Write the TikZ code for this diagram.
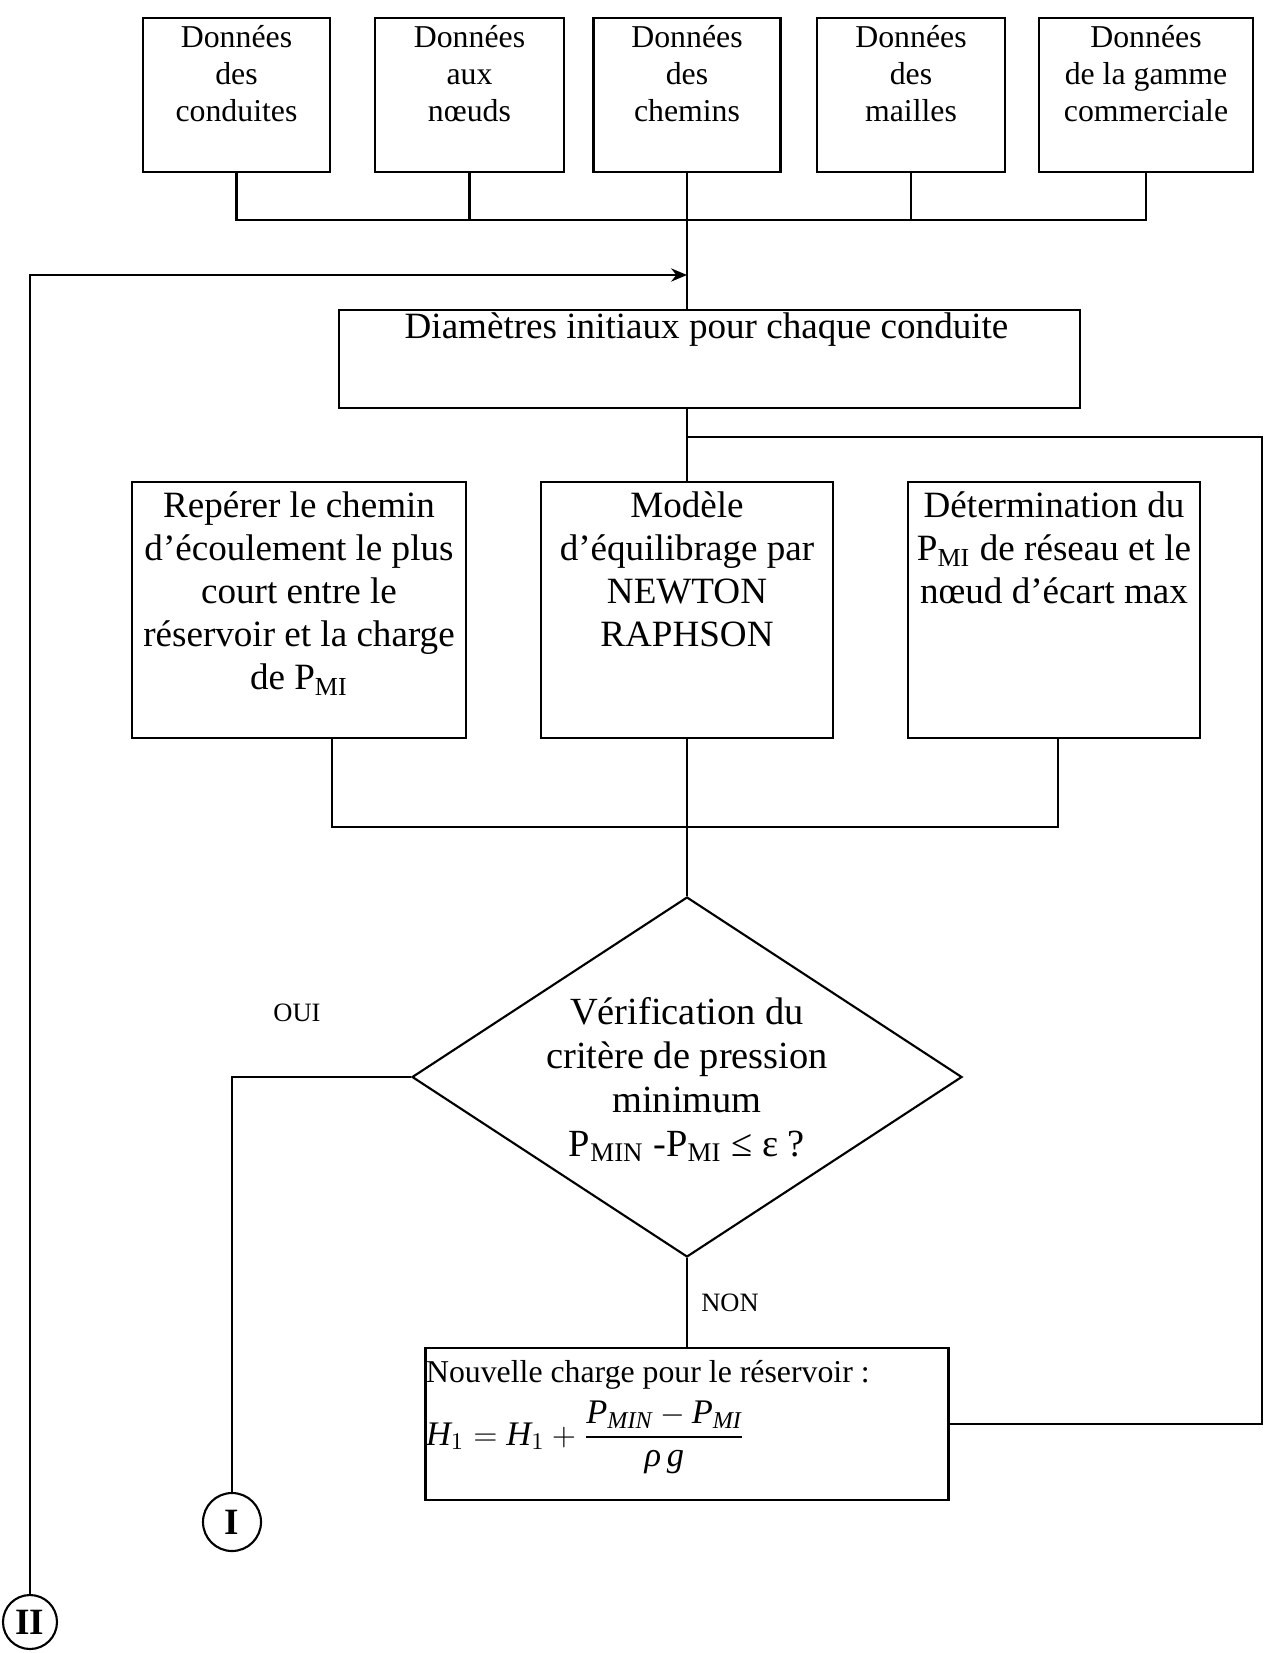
\documentclass[tikz,border=0pt]{standalone}
\usepackage{fontspec}
\setmainfont{Liberation Serif}
\usepackage{amsmath}
\usetikzlibrary{shapes.geometric,arrows.meta,calc}
\newcommand\pxu[1]{#1*0.37736pt}
\begin{document}
\begin{tikzpicture}[x=0.37736pt, y=-0.37736pt, line width=0.8pt,
  box/.style={draw, inner sep=0pt},
  ttxt/.style={align=center, inner sep=0pt, font=\fontsize{12}{14}\selectfont, anchor=north},
  mtxt/.style={align=center, inner sep=0pt, font=\fontsize{14}{16.2}\selectfont, anchor=north},
  dtxt/.style={align=center, inner sep=0pt, font=\fontsize{14.5}{16.6}\selectfont, anchor=north},
  lbl/.style={inner sep=0pt, font=\fontsize{10}{12}\selectfont},
  circ/.style={draw, circle, inner sep=0pt, font=\fontsize{14}{16}\selectfont\bfseries}]
\fill[white] (0,0) rectangle (1272,1653);
\useasboundingbox (0,0) rectangle (1272,1653);

% top data boxes
\node[box, minimum width=\pxu{187}, minimum height=\pxu{154}] (b1) at (236.5,95) {};
\node[box, minimum width=\pxu{189}, minimum height=\pxu{154}] (b2) at (469.5,95) {};
\node[box, minimum width=\pxu{187}, minimum height=\pxu{154}] (b3) at (687,95) {};
\node[box, minimum width=\pxu{188}, minimum height=\pxu{154}] (b4) at (911,95) {};
\node[box, minimum width=\pxu{214}, minimum height=\pxu{154}] (b5) at (1146,95) {};
\node[ttxt] (t1) at ($(b1.north)+(0,7)$) {Données\\des\\conduites};
\node[ttxt] (t2) at ($(b2.north)+(0,7)$) {Données\\aux\\nœuds};
\node[ttxt] (t3) at ($(b3.north)+(0,7)$) {Données\\des\\chemins};
\node[ttxt] (t4) at ($(b4.north)+(0,7)$) {Données\\des\\mailles};
\node[ttxt] (t5) at ($(b5.north)+(0,7)$) {Données\\de la gamme\\commerciale};

% initial diameters
\node[box, minimum width=\pxu{741}, minimum height=\pxu{98}] (d0) at (709.5,359) {};
\node[mtxt] (d0t) at ($(d0.north)+(-3,3)$) {Diamètres initiaux pour chaque conduite};

% middle row
\node[box, minimum width=\pxu{334}, minimum height=\pxu{256}] (L) at (299,610) {};
\node[box, minimum width=\pxu{292}, minimum height=\pxu{256}] (M) at (687,610) {};
\node[box, minimum width=\pxu{292}, minimum height=\pxu{256}] (R) at (1054,610) {};
\node[mtxt] (Lt) at ($(L.north)+(0,10)$) {Repérer le chemin\\d’écoulement le plus\\court entre le\\réservoir et la charge\\de P\textsubscript{MI}};
\node[mtxt] (Mt) at ($(M.north)+(0,10)$) {Modèle\\d’équilibrage par\\NEWTON\\RAPHSON};
\node[mtxt] (Rt) at ($(R.north)+(0,10)$) {Détermination du\\P\textsubscript{MI} de réseau et le\\nœud d’écart max};

% decision
\node[draw, diamond, inner sep=0pt, minimum width=\pxu{550}, minimum height=\pxu{360}] (dia) at (687,1077) {};
\node[dtxt] (diat) at (687,996) {Vérification du\\critère de pression\\minimum\\P\textsubscript{MIN} -P\textsubscript{MI} ≤ ε ?};
\node[lbl] (oui) at (297,1013) {OUI};
\node[lbl] (non) at (730,1303) {NON};

% new head box
\node[box, minimum width=\pxu{523}, minimum height=\pxu{152}] (F) at (687,1424) {};
\node[anchor=base west, inner sep=0pt, font=\fontsize{12}{14}\selectfont] (F1) at (425,1382) {Nouvelle charge pour le réservoir :};
\node[anchor=base west, inner sep=0pt, font=\fontsize{13}{15}\selectfont] (F2) at (425,1445)
  {$\textit{H}_1 = \textit{H}_1 + \dfrac{\textit{P}_{\textit{MIN}} - \textit{P}_{\textit{MI}}}{\textit{ρ\,g}}$};

% connectors (off-page)
\node[circ, minimum size=\pxu{58}] (c1) at (232,1522) {I};
\node[circ, minimum size=\pxu{54}] (c2) at (30,1622) {II};

% connectors
\coordinate (tb) at (0,220);
\draw (b1.south) -- (b1.south |- tb) -- (b5.south |- tb) -- (b5.south);
\draw (b2.south) -- (b2.south |- tb);
\draw (b4.south) -- (b4.south |- tb);
\draw (b3.south) -- (b3.south |- d0.north);

\coordinate (ja) at (687,275);
\coordinate (ca) at (c2.north |- ja);
\draw[-{Stealth[length=6pt,width=5pt]}] (c2.north) -- (ca) -- (ja);

\coordinate (jl) at (687,437);
\coordinate (lp) at (1262,437);
\draw (d0.south -| M.north) -- (M.north);
\draw (jl) -- (lp) |- (F.east);

\coordinate (bl) at (332,827);
\coordinate (br) at (1058,827);
\draw (bl |- L.south) -- (bl) -- (br) -- (br |- R.south);
\draw (M.south) -- (dia.north);
\draw (dia.west) -| (c1.north);
\draw (dia.south) -- (F.north);
\end{tikzpicture}
\end{document}
